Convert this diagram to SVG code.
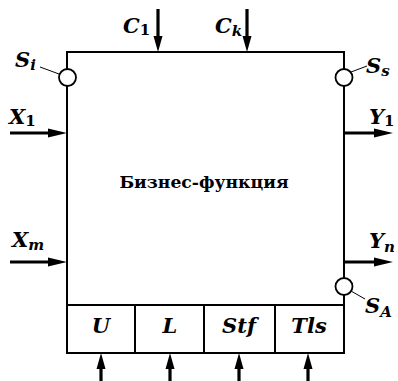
<svg xmlns="http://www.w3.org/2000/svg" width="398" height="381" viewBox="0 0 398 381">
<style>
.ln{stroke:#000;stroke-width:2;fill:none}
.ar{stroke:#000;stroke-width:3.2;fill:none}
.hd{fill:#000;stroke:none}
.ci{stroke:#000;stroke-width:1.8;fill:#fff}
.ld{stroke:#000;stroke-width:1;fill:none}
.lb{font-family:"DejaVu Serif","Liberation Serif",serif;font-style:italic;font-weight:bold;font-size:21px;fill:#000}
.sb{font-size:15px}
.sd{font-style:normal}
.ct{font-family:"DejaVu Serif","Liberation Serif",serif;font-weight:bold;font-size:17.2px;fill:#000}
</style>
<rect width="398" height="381" fill="#fff"/>
<g id="function">
<rect class="ln" x="67" y="52" width="277" height="301"/>
<line class="ln" x1="67" y1="353" x2="344" y2="353" stroke-width="3"/>
<text class="ct" x="204" y="188" text-anchor="middle">Бизнес-функция</text>
</g>
<g id="resources">
<line class="ln" x1="67" y1="305" x2="344" y2="305"/>
<line class="ln" x1="135" y1="305" x2="135" y2="353"/>
<line class="ln" x1="204" y1="305" x2="204" y2="353"/>
<line class="ln" x1="275" y1="305" x2="275" y2="353"/>
<text class="lb" x="101" y="333" text-anchor="middle">U</text>
<text class="lb" x="170" y="333" text-anchor="middle">L</text>
<text class="lb" x="239" y="333" text-anchor="middle">Stf</text>
<text class="lb" x="309" y="333" text-anchor="middle">Tls</text>
</g>
<g id="sensors">
<line class="ld" x1="40" y1="67" x2="59" y2="74"/>
<circle class="ci" cx="67.5" cy="77.5" r="8.5"/>
<text class="lb" x="15" y="67">S<tspan class="sb" dy="3">i</tspan></text>
<line class="ld" x1="351" y1="72" x2="367" y2="66"/>
<circle class="ci" cx="344" cy="77.5" r="8.5"/>
<text class="lb" x="366" y="73">S<tspan class="sb" dy="3">s</tspan></text>
<line class="ld" x1="351" y1="291" x2="365" y2="299"/>
<circle class="ci" cx="344" cy="286.5" r="8.5"/>
<text class="lb" x="365" y="313">S<tspan class="sb" dy="4">A</tspan></text>
</g>
<g id="connectors">
<line class="ar" x1="158" y1="9" x2="158" y2="40"/>
<polygon class="hd" points="153.5,36 162.5,36 158,52"/>
<line class="ar" x1="247" y1="9" x2="247" y2="40"/>
<polygon class="hd" points="242.5,36 251.5,36 247,52"/>
<line class="ar" x1="10" y1="133" x2="52" y2="133"/>
<polygon class="hd" points="48,128.5 48,137.5 67,133"/>
<line class="ar" x1="10" y1="262" x2="52" y2="262"/>
<polygon class="hd" points="48,257.5 48,266.5 67,262"/>
<line class="ar" x1="344" y1="133" x2="378" y2="133"/>
<polygon class="hd" points="374,128.5 374,137.5 393,133"/>
<line class="ar" x1="344" y1="262" x2="378" y2="262"/>
<polygon class="hd" points="374,257.5 374,266.5 393,262"/>
<line class="ar" x1="101" y1="381" x2="101" y2="366"/>
<polygon class="hd" points="96.5,369 105.5,369 101,353"/>
<line class="ar" x1="170" y1="381" x2="170" y2="366"/>
<polygon class="hd" points="165.5,369 174.5,369 170,353"/>
<line class="ar" x1="239" y1="381" x2="239" y2="366"/>
<polygon class="hd" points="234.5,369 243.5,369 239,353"/>
<line class="ar" x1="308" y1="381" x2="308" y2="366"/>
<polygon class="hd" points="303.5,369 312.5,369 308,353"/>
</g>
<g id="labels">
<text class="lb" x="123" y="33">C<tspan class="sb sd" dy="2">1</tspan></text>
<text class="lb" x="215" y="33">C<tspan class="sb" dy="3">k</tspan></text>
<text class="lb" x="9" y="124">X<tspan class="sb sd" dy="2">1</tspan></text>
<text class="lb" x="12" y="247">X<tspan class="sb" dy="3">m</tspan></text>
<text class="lb" x="369" y="124">Y<tspan class="sb sd" dy="2">1</tspan></text>
<text class="lb" x="369" y="248">Y<tspan class="sb" dy="4">n</tspan></text>
</g>
</svg>
